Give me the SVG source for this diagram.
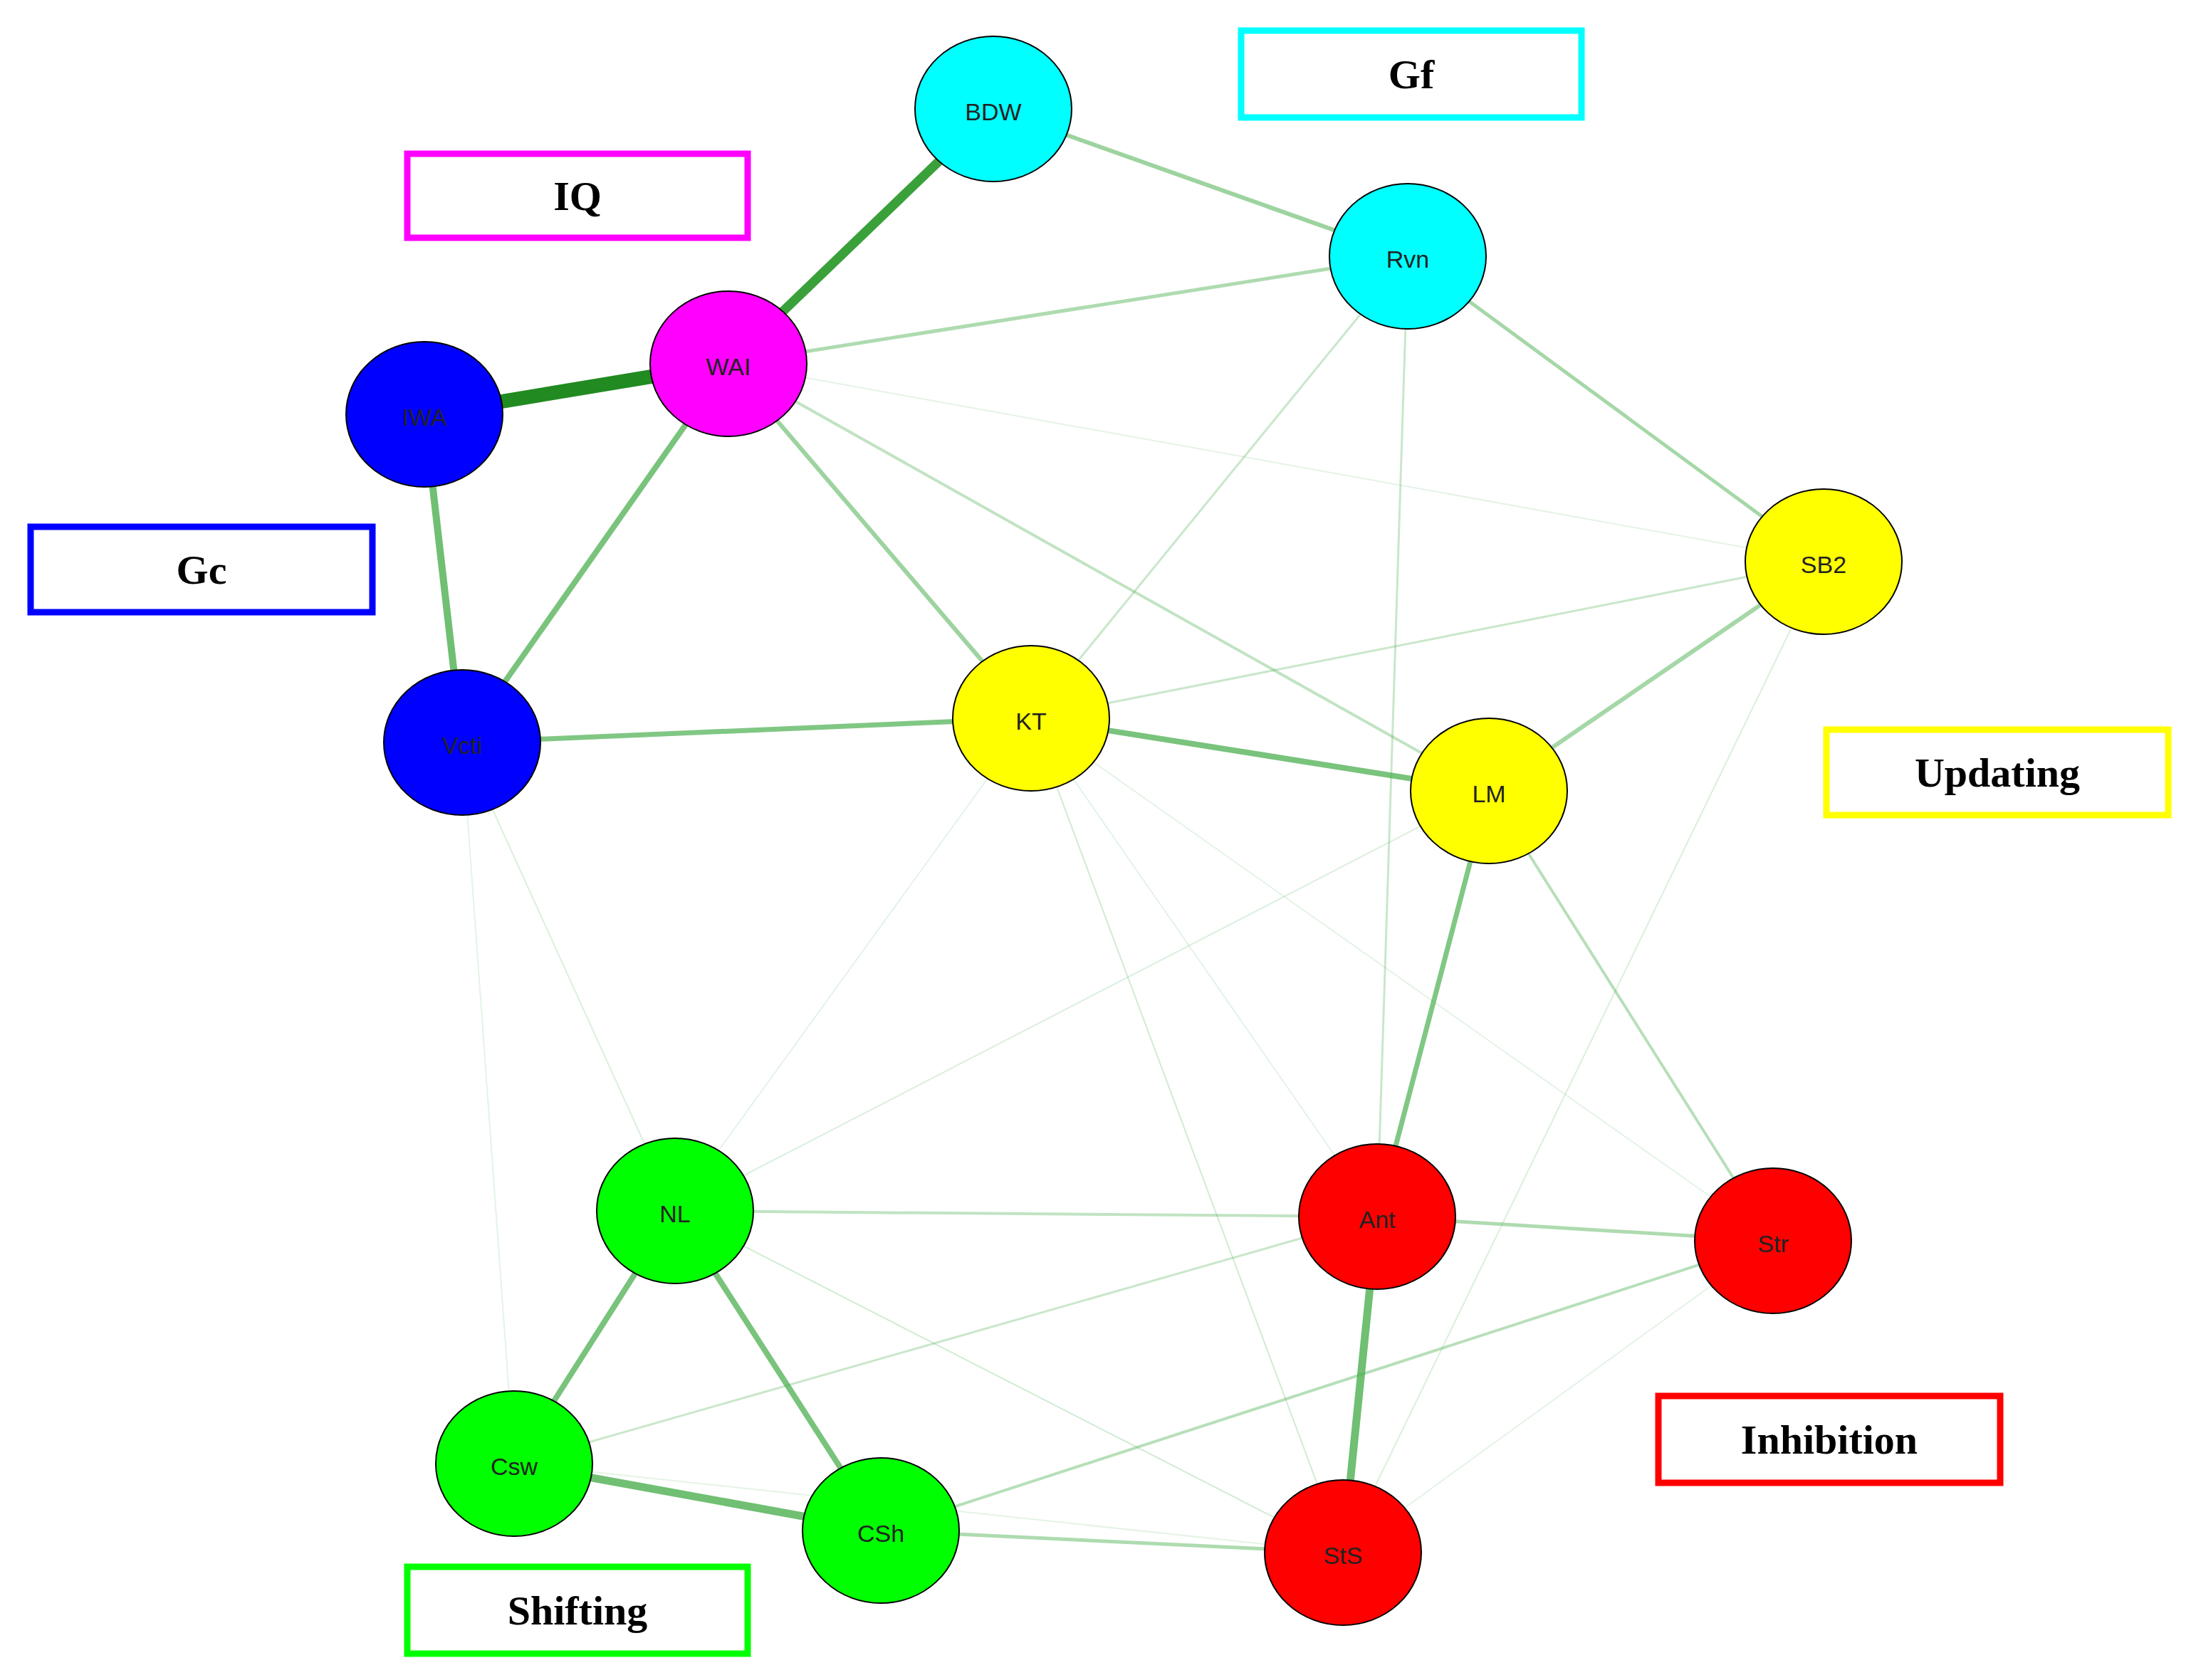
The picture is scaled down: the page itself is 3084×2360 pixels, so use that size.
<svg xmlns="http://www.w3.org/2000/svg" width="3084" height="2360" viewBox="0 0 3084 2360">
<style>
.n{stroke:#000;stroke-width:2}
.t{font-family:"Liberation Sans",Arial,sans-serif;font-size:34px;text-anchor:middle;dominant-baseline:central;fill:#222}
.b{fill:#fff;stroke-width:9}
.bt{font-family:"Liberation Serif","Times New Roman",serif;font-weight:bold;font-size:58px;text-anchor:middle;dominant-baseline:central;fill:#000}
.e{stroke:#4caf50;fill:none;stroke-linecap:round}
</style>
<rect width="3084" height="2360" fill="#fff"/>
<g id="connectors">
<line class="e" x1="1023" y1="511" x2="596" y2="582" stroke="#1e8c1e" stroke-width="20" style="stroke:#218a21"/>
<line class="e" x1="1023" y1="511" x2="1395" y2="153" stroke-width="13" style="stroke:#3aa03a"/>
<line class="e" x1="596" y1="582" x2="649" y2="1043" stroke-width="10" opacity="0.8"/>
<line class="e" x1="1023" y1="511" x2="649" y2="1043" stroke-width="8" opacity="0.75"/>
<line class="e" x1="649" y1="1043" x2="1448" y2="1009" stroke-width="7" opacity="0.7"/>
<line class="e" x1="1448" y1="1009" x2="2091" y2="1111" stroke-width="8" opacity="0.75"/>
<line class="e" x1="1934" y1="1709" x2="1886" y2="2181" stroke-width="11" opacity="0.8"/>
<line class="e" x1="722" y1="2056" x2="1237" y2="2150" stroke-width="11" opacity="0.8"/>
<line class="e" x1="948" y1="1701" x2="722" y2="2056" stroke-width="8" opacity="0.75"/>
<line class="e" x1="948" y1="1701" x2="1237" y2="2150" stroke-width="8" opacity="0.75"/>
<line class="e" x1="2091" y1="1111" x2="1934" y2="1709" stroke-width="7" opacity="0.7"/>
<line class="e" x1="1395" y1="153" x2="1977" y2="360" stroke-width="6" opacity="0.55"/>
<line class="e" x1="1977" y1="360" x2="2561" y2="789" stroke-width="5" opacity="0.5"/>
<line class="e" x1="1023" y1="511" x2="1977" y2="360" stroke-width="5" opacity="0.45"/>
<line class="e" x1="1023" y1="511" x2="1448" y2="1009" stroke-width="6" opacity="0.55"/>
<line class="e" x1="2561" y1="789" x2="2091" y2="1111" stroke-width="6" opacity="0.5"/>
<line class="e" x1="2091" y1="1111" x2="2490" y2="1743" stroke-width="4" opacity="0.4"/>
<line class="e" x1="1237" y1="2150" x2="1886" y2="2181" stroke-width="5" opacity="0.45"/>
<line class="e" x1="1237" y1="2150" x2="2490" y2="1743" stroke-width="4" opacity="0.4"/>
<line class="e" x1="1934" y1="1709" x2="2490" y2="1743" stroke-width="5" opacity="0.45"/>
<line class="e" x1="948" y1="1701" x2="1934" y2="1709" stroke-width="4" opacity="0.35"/>
<line class="e" x1="722" y1="2056" x2="1934" y2="1709" stroke-width="3" opacity="0.3"/>
<line class="e" x1="1977" y1="360" x2="1448" y2="1009" stroke-width="3" opacity="0.3"/>
<line class="e" x1="1977" y1="360" x2="1934" y2="1709" stroke-width="3" opacity="0.3"/>
<line class="e" x1="1023" y1="511" x2="2091" y2="1111" stroke-width="4" opacity="0.35"/>
<line class="e" x1="1023" y1="511" x2="2561" y2="789" stroke-width="2" opacity="0.15"/>
<line class="e" x1="1448" y1="1009" x2="2561" y2="789" stroke-width="3" opacity="0.3"/>
<line class="e" x1="649" y1="1043" x2="948" y2="1701" stroke-width="2" opacity="0.2"/>
<line class="e" x1="649" y1="1043" x2="722" y2="2056" stroke-width="2" opacity="0.15"/>
<line class="e" x1="1448" y1="1009" x2="948" y2="1701" stroke-width="2" opacity="0.15"/>
<line class="e" x1="2091" y1="1111" x2="948" y2="1701" stroke-width="2" opacity="0.2"/>
<line class="e" x1="1448" y1="1009" x2="1886" y2="2181" stroke-width="2" opacity="0.25"/>
<line class="e" x1="1448" y1="1009" x2="2490" y2="1743" stroke-width="2" opacity="0.15"/>
<line class="e" x1="1448" y1="1009" x2="1934" y2="1709" stroke-width="2" opacity="0.15"/>
<line class="e" x1="2561" y1="789" x2="1886" y2="2181" stroke-width="2" opacity="0.2"/>
<line class="e" x1="948" y1="1701" x2="1886" y2="2181" stroke-width="2" opacity="0.25"/>
<line class="e" x1="722" y1="2056" x2="1886" y2="2181" stroke-width="2" opacity="0.15"/>
<line class="e" x1="2490" y1="1743" x2="1886" y2="2181" stroke-width="2" opacity="0.15"/>
</g>
<g id="BDW"><ellipse class="n" cx="1395" cy="153" rx="110" ry="102" fill="#00ffff"/><text class="t" x="1395" y="157">BDW</text></g>
<g id="Rvn"><ellipse class="n" cx="1977" cy="360" rx="110" ry="102" fill="#00ffff"/><text class="t" x="1977" y="364">Rvn</text></g>
<g id="WAI"><ellipse class="n" cx="1023" cy="511" rx="110" ry="102" fill="#ff00ff"/><text class="t" x="1023" y="515">WAI</text></g>
<g id="IWA"><ellipse class="n" cx="596" cy="582" rx="110" ry="102" fill="#0000ff"/><text class="t" x="596" y="586">IWA</text></g>
<g id="Vcti"><ellipse class="n" cx="649" cy="1043" rx="110" ry="102" fill="#0000ff"/><text class="t" x="649" y="1047">Vcti</text></g>
<g id="KT"><ellipse class="n" cx="1448" cy="1009" rx="110" ry="102" fill="#ffff00"/><text class="t" x="1448" y="1013">KT</text></g>
<g id="LM"><ellipse class="n" cx="2091" cy="1111" rx="110" ry="102" fill="#ffff00"/><text class="t" x="2091" y="1115">LM</text></g>
<g id="SB2"><ellipse class="n" cx="2561" cy="789" rx="110" ry="102" fill="#ffff00"/><text class="t" x="2561" y="793">SB2</text></g>
<g id="NL"><ellipse class="n" cx="948" cy="1701" rx="110" ry="102" fill="#00ff00"/><text class="t" x="948" y="1705">NL</text></g>
<g id="Ant"><ellipse class="n" cx="1934" cy="1709" rx="110" ry="102" fill="#ff0000"/><text class="t" x="1934" y="1713">Ant</text></g>
<g id="Str"><ellipse class="n" cx="2490" cy="1743" rx="110" ry="102" fill="#ff0000"/><text class="t" x="2490" y="1747">Str</text></g>
<g id="Csw"><ellipse class="n" cx="722" cy="2056" rx="110" ry="102" fill="#00ff00"/><text class="t" x="722" y="2060">Csw</text></g>
<g id="CSh"><ellipse class="n" cx="1237" cy="2150" rx="110" ry="102" fill="#00ff00"/><text class="t" x="1237" y="2154">CSh</text></g>
<g id="StS"><ellipse class="n" cx="1886" cy="2181" rx="110" ry="102" fill="#ff0000"/><text class="t" x="1886" y="2185">StS</text></g>
<g id="legend-Gf"><rect class="b" x="1743" y="43" width="478" height="122" stroke="#00ffff"/><text class="bt" x="1982" y="104">Gf</text></g>
<g id="legend-IQ"><rect class="b" x="572" y="216" width="478" height="118" stroke="#ff00ff"/><text class="bt" x="811" y="275">IQ</text></g>
<g id="legend-Gc"><rect class="b" x="43" y="740" width="480" height="120" stroke="#0000ff"/><text class="bt" x="283" y="800">Gc</text></g>
<g id="legend-Updating"><rect class="b" x="2565" y="1025" width="480" height="120" stroke="#ffff00"/><text class="bt" x="2805" y="1085">Updating</text></g>
<g id="legend-Inhibition"><rect class="b" x="2329" y="1961" width="480" height="122" stroke="#ff0000"/><text class="bt" x="2569" y="2022">Inhibition</text></g>
<g id="legend-Shifting"><rect class="b" x="572" y="2201" width="478" height="122" stroke="#00ff00"/><text class="bt" x="811" y="2262">Shifting</text></g>
</svg>
